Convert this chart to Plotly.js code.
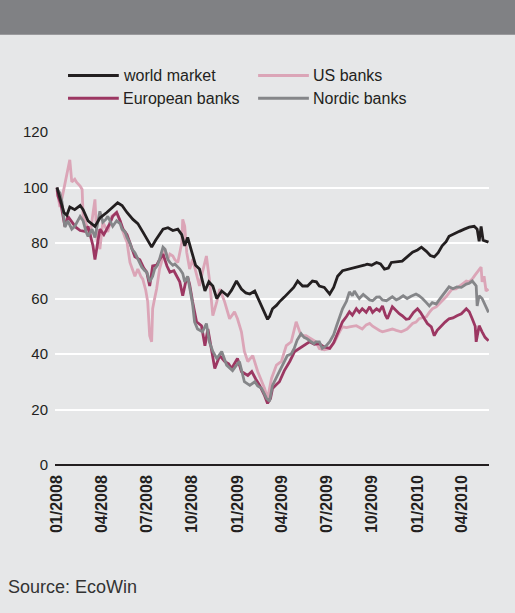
<!DOCTYPE html>
<html>
<head>
<meta charset="utf-8">
<script src="https://cdn.plot.ly/plotly-3.0.1.min.js"></script>
<style>
html,body{margin:0;padding:0;background:#e6e7e8;}
#chart{width:515px;height:613px;}
</style>
</head>
<body>
<div id="chart"></div>
<script>
// ---- data (index, 01/2008 = 100) ----
var worldDates = ['2008-01-01','2008-01-07','2008-01-15','2008-01-21','2008-01-27','2008-02-06','2008-02-17','2008-02-23','2008-03-04','2008-03-18','2008-03-28','2008-04-11','2008-04-23','2008-05-03','2008-05-12','2008-05-22','2008-06-03','2008-06-13','2008-06-23','2008-07-03','2008-07-11','2008-07-19','2008-07-27','2008-08-03','2008-08-13','2008-08-23','2008-09-02','2008-09-10','2008-09-16','2008-09-22','2008-09-30','2008-10-08','2008-10-16','2008-10-27','2008-11-04','2008-11-12','2008-11-20','2008-11-30','2008-12-12','2008-12-20','2008-12-30','2009-01-09','2009-01-18','2009-01-26','2009-02-05','2009-02-15','2009-02-23','2009-03-03','2009-03-07','2009-03-13','2009-03-21','2009-03-27','2009-04-06','2009-04-17','2009-04-25','2009-05-03','2009-05-13','2009-05-23','2009-06-02','2009-06-10','2009-06-16','2009-06-26','2009-07-07','2009-07-15','2009-07-23','2009-08-02','2009-08-16','2009-08-26','2009-09-05','2009-09-15','2009-09-21','2009-09-30','2009-10-10','2009-10-18','2009-10-26','2009-11-03','2009-11-09','2009-11-19','2009-12-01','2009-12-11','2009-12-22','2010-01-01','2010-01-09','2010-01-19','2010-01-27','2010-02-04','2010-02-12','2010-02-20','2010-02-28','2010-03-06','2010-03-17','2010-03-27','2010-04-06','2010-04-16','2010-04-26','2010-05-02','2010-05-06','2010-05-10','2010-05-14','2010-05-20','2010-05-25'];
var worldValues = [100,96,91,90,93,92,93.5,92,88,86,89,91,93,94.5,93.5,91,88.5,87,84,81,78.5,81,83,85,85.5,84.5,85,83,79,82,77,72,70.6,62.7,66,64.5,60,62.7,61,63,66.3,63.4,62,61.6,62.7,59,56,52.5,53.5,56.3,57.5,58.8,60.5,62.7,64,66.3,64.5,64.5,66.3,66,64.5,64,61.6,64,68,70,70.6,71,71.7,72,72.4,72,73,72.5,70.6,71,73,73.2,73.5,75,76.7,77.5,78.5,77,75.5,75,76.5,79,80.5,82.4,83.5,84.2,85,85.7,86,85,80.6,86,81,80.5,80.3];

var usDates = ['2008-01-01','2008-01-03','2008-01-07','2008-01-11','2008-01-17','2008-01-23','2008-01-27','2008-01-31','2008-02-06','2008-02-10','2008-02-17','2008-02-21','2008-02-23','2008-03-02','2008-03-08','2008-03-12','2008-03-18','2008-03-22','2008-03-28','2008-04-03','2008-04-09','2008-04-13','2008-04-21','2008-05-01','2008-05-08','2008-05-12','2008-05-18','2008-05-22','2008-05-28','2008-06-03','2008-06-07','2008-06-13','2008-06-19','2008-06-23','2008-06-29','2008-07-03','2008-07-07','2008-07-11','2008-07-13','2008-07-17','2008-07-21','2008-07-27','2008-08-03','2008-08-07','2008-08-13','2008-08-17','2008-08-23','2008-08-27','2008-09-02','2008-09-06','2008-09-10','2008-09-12','2008-09-16','2008-09-20','2008-09-26','2008-10-02','2008-10-10','2008-10-16','2008-10-22','2008-10-30','2008-11-05','2008-11-12','2008-11-20','2008-11-26','2008-12-06','2008-12-16','2008-12-26','2009-01-01','2009-01-09','2009-01-15','2009-01-22','2009-02-01','2009-02-11','2009-02-19','2009-02-25','2009-03-03','2009-03-11','2009-03-21','2009-03-31','2009-04-10','2009-04-20','2009-04-30','2009-05-10','2009-05-20','2009-05-30','2009-06-09','2009-06-16','2009-06-26','2009-07-07','2009-07-17','2009-07-27','2009-08-02','2009-08-10','2009-08-16','2009-08-30','2009-09-11','2009-09-19','2009-09-26','2009-10-02','2009-10-10','2009-10-16','2009-10-22','2009-11-01','2009-11-11','2009-11-19','2009-11-29','2009-12-05','2009-12-11','2009-12-22','2009-12-29','2010-01-04','2010-01-13','2010-01-19','2010-01-25','2010-01-31','2010-02-08','2010-02-14','2010-02-22','2010-02-28','2010-03-06','2010-03-12','2010-03-20','2010-03-27','2010-04-04','2010-04-10','2010-04-16','2010-04-22','2010-04-28','2010-05-02','2010-05-06','2010-05-10','2010-05-12','2010-05-16','2010-05-20','2010-05-25'];
var usValues = [99,97,93,96,101.8,107.5,110,102,103,101.8,100.5,99.3,89.6,86,82.4,88,95.7,81.4,77.8,87.5,85,84,89.6,91,88,85,82,80.3,73,70,68,70.6,68,67,63,58.8,46.6,44.4,56.3,60,63.4,70.6,75,77.8,74.2,76,75.3,74,73,76,80,88.5,86,76.7,70.6,74.2,68,64.5,69.5,75.3,67,53.8,58.8,63.4,58.8,52.7,55.2,52.7,48,40.9,37.3,39.4,33.7,30,27.6,24,31.2,36,37.3,43,44.4,51.6,46.6,46.6,45.5,44.4,42,41.5,42,44.4,48,49.8,49.5,49.8,50.2,49,50.5,51,50,49,48.5,48,48.5,49,48.5,48,48.5,49,51,51.5,52.7,53,53.4,55,56.3,57,58,59.5,60.6,62,63.4,63.5,64.5,65.5,66.3,66,67,68.5,69.5,70.5,71.3,66,68,62.7,63.4];

var europeDates = ['2008-01-01','2008-01-03','2008-01-09','2008-01-13','2008-01-17','2008-01-23','2008-01-27','2008-02-02','2008-02-08','2008-02-17','2008-02-27','2008-03-04','2008-03-10','2008-03-14','2008-03-18','2008-03-24','2008-03-28','2008-04-05','2008-04-11','2008-04-17','2008-04-23','2008-05-01','2008-05-08','2008-05-14','2008-05-22','2008-05-28','2008-06-03','2008-06-07','2008-06-17','2008-06-25','2008-07-01','2008-07-07','2008-07-13','2008-07-21','2008-07-27','2008-08-03','2008-08-11','2008-08-17','2008-08-25','2008-08-31','2008-09-06','2008-09-12','2008-09-18','2008-09-22','2008-09-26','2008-10-02','2008-10-10','2008-10-20','2008-10-27','2008-11-02','2008-11-08','2008-11-12','2008-11-16','2008-11-26','2008-12-06','2008-12-14','2008-12-20','2009-01-01','2009-01-09','2009-01-22','2009-01-30','2009-02-07','2009-02-15','2009-02-25','2009-03-03','2009-03-09','2009-03-13','2009-03-21','2009-03-27','2009-04-06','2009-04-17','2009-04-27','2009-05-07','2009-05-17','2009-05-27','2009-06-06','2009-06-16','2009-06-26','2009-07-07','2009-07-15','2009-07-21','2009-07-27','2009-08-02','2009-08-10','2009-08-16','2009-08-22','2009-08-30','2009-09-05','2009-09-11','2009-09-19','2009-09-26','2009-10-02','2009-10-10','2009-10-16','2009-10-22','2009-10-28','2009-11-01','2009-11-11','2009-11-19','2009-11-25','2009-12-01','2009-12-09','2009-12-15','2009-12-24','2010-01-01','2010-01-07','2010-01-15','2010-01-21','2010-01-29','2010-02-04','2010-02-10','2010-02-18','2010-02-26','2010-03-06','2010-03-14','2010-03-22','2010-03-31','2010-04-10','2010-04-16','2010-04-22','2010-04-28','2010-04-30','2010-05-06','2010-05-12','2010-05-18','2010-05-25'];
var europeValues = [100,97,94,90,86,89.6,88.5,87,85.7,84.5,84.2,86,82,79,74,80,85,83,85,87,89.6,91,88,85,83,80,77,75,74,71,69.5,64.5,71.7,72,74,76,71.7,69.5,70,68,66,61,66,67.7,65,58.8,51.6,50.2,43,49,43,38.4,34.8,39.4,37.3,36.5,34.8,38.4,33.7,32.3,33.7,31,28.7,25,22.2,24,27.6,29,30,34,37.3,40.9,42,43,44.4,43.5,43.7,42.5,42,44,46.6,49,51.6,53.5,55.2,54,56.3,55,56.3,55,57,55,56.3,55.5,57.3,54,52.7,57,55.5,54.5,53.8,52.5,52.7,55,56.3,55,52.7,51,49.8,46.6,48.5,50.2,51.5,52.7,53,53.8,54.5,56.3,55.2,52.7,50,44.4,50.2,48,46,44.8];

var nordicDates = ['2008-01-01','2008-01-03','2008-01-07','2008-01-11','2008-01-13','2008-01-17','2008-01-23','2008-01-31','2008-02-06','2008-02-10','2008-02-17','2008-02-23','2008-02-29','2008-03-04','2008-03-12','2008-03-18','2008-03-24','2008-03-28','2008-04-03','2008-04-09','2008-04-13','2008-04-17','2008-04-23','2008-05-01','2008-05-08','2008-05-12','2008-05-18','2008-05-22','2008-05-28','2008-06-01','2008-06-07','2008-06-11','2008-06-17','2008-06-21','2008-06-27','2008-07-01','2008-07-07','2008-07-13','2008-07-17','2008-07-23','2008-07-27','2008-08-03','2008-08-07','2008-08-13','2008-08-17','2008-08-23','2008-08-27','2008-09-02','2008-09-06','2008-09-12','2008-09-16','2008-09-22','2008-09-26','2008-10-02','2008-10-06','2008-10-12','2008-10-22','2008-10-30','2008-11-05','2008-11-12','2008-11-20','2008-11-30','2008-12-10','2008-12-22','2008-12-30','2009-01-05','2009-01-15','2009-01-26','2009-02-05','2009-02-11','2009-02-19','2009-03-01','2009-03-07','2009-03-13','2009-03-23','2009-04-02','2009-04-12','2009-04-20','2009-04-26','2009-05-02','2009-05-10','2009-05-16','2009-05-22','2009-05-30','2009-06-05','2009-06-09','2009-06-16','2009-06-22','2009-06-30','2009-07-07','2009-07-15','2009-07-21','2009-07-27','2009-08-02','2009-08-10','2009-08-16','2009-08-22','2009-08-26','2009-09-01','2009-09-05','2009-09-13','2009-09-19','2009-09-26','2009-10-02','2009-10-10','2009-10-16','2009-10-22','2009-10-30','2009-11-05','2009-11-11','2009-11-19','2009-11-25','2009-12-03','2009-12-11','2009-12-19','2009-12-29','2010-01-04','2010-01-11','2010-01-19','2010-01-25','2010-01-31','2010-02-08','2010-02-14','2010-02-20','2010-02-28','2010-03-06','2010-03-14','2010-03-22','2010-03-31','2010-04-10','2010-04-16','2010-04-22','2010-04-28','2010-04-30','2010-05-02','2010-05-06','2010-05-12','2010-05-18','2010-05-22','2010-05-25'];
var nordicValues = [100,99,98,95,92,85.7,88,85,86,87.5,89.6,88,84,82.4,85,82,88,91.4,87.5,88.5,89.6,88,86,88,87,85,84,82,80,77.8,76.5,75,73,71.3,70,69.5,66,68,70.6,72,74.2,78.5,77.8,74,73,72,72.4,71.5,70.6,69,66,68,64.5,58,51.6,49,48,51,44.4,40.9,38.4,40.9,36,34,36,37.3,30,28.7,30,28.5,27.6,24,23,28.7,32.3,36,39.4,40,42,45,47.3,46,45.5,44.5,43.7,44.4,44.4,42,43,44.4,47,50.2,53,56.3,59,62.4,61,62.7,61,60,61.5,60.6,59.5,59.2,60.5,60.6,59.5,59.2,60,60.6,59.5,60,61,60,60.8,61.6,61,60,58.5,57.3,58.5,58,59.5,61,63,64.2,63.5,64.2,64,65.2,65.5,66.3,65,64.5,57.3,61,60,57.5,56.3,55];

var seriesNames = ['world market','US banks','European banks','Nordic banks'];
var seriesColors = ['#231f20','#dba5b7','#9c3762','#858689'];
var tickDates = ['2008-01-01','2008-04-01','2008-07-01','2008-10-01','2009-01-01','2009-04-01','2009-07-01','2009-10-01','2010-01-01','2010-04-01'];
var tickLabels = ['01/2008','04/2008','07/2008','10/2008','01/2009','04/2009','07/2009','10/2009','01/2010','04/2010'];
var yTicks = [0,20,40,60,80,100,120];
var sourceText = 'Source: EcoWin';

var FONT = 'Liberation Sans, Arial, Helvetica, sans-serif';
var TXT = '#231f20';

function tr(x, y, i) {
  return {x: x, y: y, type: 'scatter', mode: 'lines', name: seriesNames[i],
          line: {color: seriesColors[i], width: 2.8}, showlegend: false, hoverinfo: 'x+y+name'};
}
// drawing order: US (bottom), European, Nordic, world (top)
var data = [
  tr(usDates, usValues, 1),
  tr(europeDates, europeValues, 2),
  tr(nordicDates, nordicValues, 3),
  tr(worldDates, worldValues, 0)
];

// manual two-column legend (paper coordinates)
var legendPos = [
  {x0: 0.030, y: 1.170},
  {x0: 0.468, y: 1.170},
  {x0: 0.030, y: 1.101},
  {x0: 0.468, y: 1.101}
];
var shapes = [
  {type: 'rect', xref: 'paper', yref: 'paper', x0: -0.2, x1: 1.2, y0: 1.292, y1: 1.45,
   fillcolor: '#808184', line: {width: 0}, layer: 'below'}
];
var annotations = [];
legendPos.forEach(function (p, i) {
  shapes.push({type: 'line', xref: 'paper', yref: 'paper', x0: p.x0, x1: p.x0 + 0.117,
               y0: p.y, y1: p.y, line: {color: seriesColors[i], width: 3}});
  annotations.push({xref: 'paper', yref: 'paper', x: p.x0 + 0.121, y: p.y, xanchor: 'left', yanchor: 'middle',
                    text: seriesNames[i], showarrow: false, font: {family: FONT, size: 16, color: TXT}});
});
annotations.push({xref: 'paper', yref: 'paper', x: -0.112, y: -0.365, xanchor: 'left', yanchor: 'middle',
                  text: sourceText, showarrow: false, font: {family: FONT, size: 18, color: '#333333'}});

var layout = {
  width: 515, height: 613,
  margin: {l: 55, r: 26, t: 132, b: 148, pad: 0},
  paper_bgcolor: '#e6e7e8', plot_bgcolor: '#e6e7e8',
  showlegend: false,
  font: {family: FONT, color: TXT, size: 15},
  xaxis: {
    type: 'date', range: ['2007-12-28', '2010-05-26'],
    tickmode: 'array', tickvals: tickDates, ticktext: tickLabels,
    tickangle: -90, tickfont: {family: FONT, size: 16, color: TXT, weight: 'bold'},
    showgrid: false, zeroline: false, showline: false, ticks: '', ticklabelstandoff: 6,
    fixedrange: true
  },
  yaxis: {
    range: [0, 120], tickmode: 'array', tickvals: yTicks,
    showgrid: true, gridcolor: '#ffffff', gridwidth: 2,
    zeroline: true, zerolinecolor: '#231f20', zerolinewidth: 1.5,
    showline: false, ticks: '', tickfont: {family: FONT, size: 15, color: TXT},
    ticklabelstandoff: 6, fixedrange: true
  },
  shapes: shapes,
  annotations: annotations
};

Plotly.newPlot('chart', data, layout, {displayModeBar: false, staticPlot: true});
</script>
</body>
</html>
